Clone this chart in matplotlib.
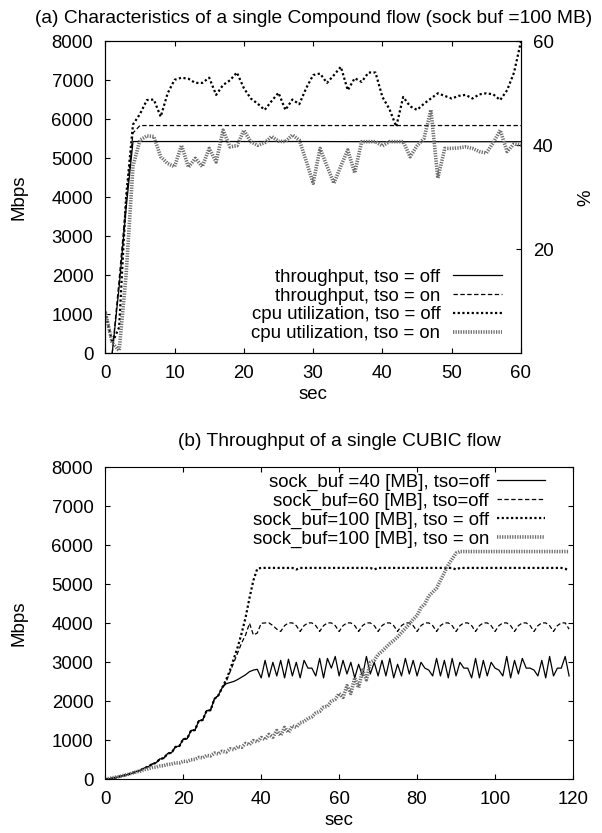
import matplotlib
matplotlib.use("Agg")
import matplotlib.pyplot as plt

plt.rcParams['font.family'] = ['Liberation Sans', 'DejaVu Sans']

# ---------------- (a) data ----------------
a_title = "(a) Characteristics of a single Compound flow (sock buf =100 MB)"
a_thr_x = [1, 2, 3, 4, 5, 10, 20, 30, 40, 50, 60]
a_thr_off = [0, 1700, 3700, 5430, 5430, 5430, 5430, 5430, 5425, 5425, 5425]
a_thr_on = [0, 1900, 3900, 5650, 5840, 5840, 5840, 5840, 5840, 5840, 5840]

a_cpu_x = list(range(0, 61))
a_cpu_off = [8, 2, 5, 30, 44, 46, 48.7, 48.8, 45.5, 50, 52.6, 53, 52.8, 52, 52, 53,
             49.7, 51.6, 52.5, 54, 51, 49, 48, 46.8, 48.5, 50.1, 46.8, 48.8, 47.9, 51,
             53.5, 53.8, 52, 53.5, 55.1, 50.6, 52.9, 52.2, 54, 54, 49.3, 47, 43.6, 49.3,
             47.5, 46.8, 48, 49, 50, 49.5, 49, 49.5, 49.7, 49, 49.8, 50, 49.8, 48.7,
             50.6, 54, 60]
a_cpu_on = [8, 2, 0.5, 15, 36, 41, 41.8, 41.7, 37.8, 36.5, 35.9, 40, 35.8, 37.5, 35.9,
            39.4, 36.8, 42.9, 39.7, 39.9, 42.9, 40.7, 40, 40.5, 41.7, 40.8, 40.7, 42, 41,
            37, 32.7, 39.4, 36, 32.7, 36, 39.1, 34.7, 40.7, 40.7, 40.7, 39.9, 40.7, 40.7,
            40.7, 37.8, 39.9, 41.3, 46.8, 33.7, 39.4, 39.4, 39.5, 39.7, 39.4, 38.8, 38.5,
            40.5, 42.9, 38.8, 40.3, 40]
a_labels = ["throughput, tso = off", "throughput, tso = on",
            "cpu utilization, tso = off", "cpu utilization, tso = on"]

# ---------------- (b) data ----------------
b_title = "(b) Throughput of a single CUBIC flow"
b_x = list(range(0, 120))
growth = [0, 10, 30, 50, 80, 100, 130, 160, 200, 230, 290, 320, 390, 420, 520, 540,
          660, 680, 830, 850, 1030, 1040, 1250, 1260, 1500, 1520, 1760, 1770, 2060,
          2150, 2350]
b_buf40 = growth + [2450, 2480, 2510, 2560, 2620, 2680, 2760, 2800, 2820, 2600,
                    3050, 2620, 3000, 2650, 3050, 2600, 3080, 2650, 3000, 2600,
                    3050, 2850, 2850, 2650, 3100, 2600, 3100, 2850, 3150, 2650,
                    3050, 2700, 3000, 2600, 2950, 2650, 3150, 2700, 3000, 2650,
                    3050, 2650, 3100, 2600, 2950, 2650, 3100, 2700, 3050, 2650,
                    3000, 2850, 2800, 2650, 3100, 2650, 3050, 2600, 3100, 2650,
                    3000, 2850, 2850, 2600, 3100, 2600, 3050, 2650, 3000, 2850,
                    2800, 2650, 3150, 2600, 3050, 2700, 3100, 2850, 2850, 2800,
                    2650, 3050, 2600, 3150, 2650, 2850, 2850, 3150, 2650]
b_buf60 = growth + [2500, 2750, 3000, 3250, 3500, 3700, 4000, 3700, 3750, 4000,
                    4010, 4010, 3940, 3850, 3790, 3940, 4010, 4010, 3940, 3790,
                    3940, 4010, 4010, 3940, 3790, 3940, 4010, 4010, 3940, 3790,
                    3940, 4010, 4010, 3940, 3790, 3940, 4010, 4010, 3940, 3790,
                    3940, 4010, 4010, 3940, 3790, 3940, 4010, 4010, 3940, 3790,
                    3940, 4010, 4010, 3940, 3790, 3940, 4010, 4010, 3940, 3790,
                    3940, 4010, 4010, 3940, 3790, 3940, 4010, 4010, 3940, 3790,
                    3940, 4010, 4010, 3940, 3790, 3940, 4010, 4010, 3940, 3790,
                    3940, 4010, 4010, 3940, 3790, 3940, 4010, 4010, 3850]
b_buf100_off = growth + [2550, 2800, 3100, 3400, 3750, 4150, 4650, 5100, 5400, 5420,
                         5420, 5420, 5420, 5420, 5420, 5420, 5420, 5420, 5380, 5420,
                         5420, 5420, 5420, 5420, 5420, 5420, 5420, 5420, 5420, 5420,
                         5420, 5420, 5420, 5420, 5420, 5420, 5420, 5420, 5380, 5420,
                         5420, 5420, 5420, 5420, 5420, 5420, 5420, 5420, 5420, 5420,
                         5420, 5420, 5420, 5420, 5420, 5420, 5420, 5420, 5420, 5380,
                         5420, 5420, 5420, 5420, 5420, 5420, 5420, 5420, 5420, 5420,
                         5420, 5420, 5420, 5420, 5420, 5420, 5420, 5420, 5420, 5420,
                         5420, 5420, 5420, 5420, 5420, 5420, 5420, 5400, 5350]
b_buf100_on = [0, 20, 40, 60, 80, 110, 130, 160, 190, 210, 250, 270, 300, 310, 340,
               350, 380, 390, 420, 420, 460, 460, 500, 510, 560, 550, 610, 600, 670,
               650, 720, 700, 780, 760, 840, 820, 920, 890, 990, 960, 1070, 1020, 1150,
               1080, 1250, 1120, 1330, 1200, 1370, 1330, 1450, 1480, 1560, 1600, 1700,
               1740, 1850, 1870, 2000, 2050, 2200, 2100, 2400, 2200, 2600, 2350, 2800,
               2550, 3000, 3050, 3200, 3280, 3380, 3480, 3560, 3650, 3760, 3870, 3980,
               4100, 4200, 4400, 4500, 4700, 4800, 4900, 5100, 5300, 5500, 5650, 5800,
               5840, 5840, 5840, 5840, 5840, 5840, 5840, 5840, 5840, 5840, 5840, 5840,
               5840, 5840, 5840, 5840, 5840, 5840, 5840, 5840, 5840, 5840, 5840, 5840,
               5840, 5840, 5840, 5840, 5840]
b_labels = ["sock_buf =40 [MB], tso=off", "sock_buf=60 [MB], tso=off",
            "sock_buf=100 [MB], tso = off", "sock_buf=100 [MB], tso = on"]

# ---------------- styles ----------------
FS = 13.4
FS_T = 13.8
st_solid = dict(color='black', lw=0.9, linestyle='-')
st_dash = dict(color='black', lw=0.9, linestyle=(0, (3.5, 2)))
st_dot = dict(color='black', lw=1.6, linestyle=(0, (1, 1.1)))
st_gray = dict(color='#6e6e6e', lw=2.6, linestyle=(0, (0.35, 0.35)))

fig = plt.figure(figsize=(6.02, 8.33), dpi=100)

def style_axes(ax):
    for s in ax.spines.values():
        s.set_linewidth(0.8)
    ax.tick_params(direction='in', length=3.6, width=0.8, labelsize=FS, pad=8.5)

# ---- top ----
ax1 = fig.add_axes([0.1749, 0.5759, 0.6905, 0.3745])
ax1r = ax1.twinx()
h1, = ax1.plot(a_thr_x, a_thr_off, **st_solid)
h2, = ax1.plot(a_thr_x, a_thr_on, **st_dash)
h3, = ax1r.plot(a_cpu_x, a_cpu_off, **st_dot)
h4, = ax1r.plot(a_cpu_x, a_cpu_on, **st_gray)
ax1.set_xlim(0, 60)
ax1.set_ylim(0, 8000)
ax1r.set_ylim(0, 60)
ax1.set_xticks(range(0, 61, 10))
ax1.set_yticks(range(0, 8001, 1000))
ax1r.set_yticks([20, 40, 60])
style_axes(ax1)
style_axes(ax1r)
ax1.tick_params(top=True, right=False)
ax1r.tick_params(left=False, right=True)
ax1.set_xlabel("sec", fontsize=FS, labelpad=3)
ax1.set_ylabel("Mbps", fontsize=FS, labelpad=17)
ax1r.set_ylabel("%", fontsize=FS, labelpad=17)
ax1.set_title(a_title, fontsize=FS_T, pad=13)
ax1r.legend([h1, h2, h3, h4], a_labels, loc='lower right',
            bbox_to_anchor=(0.9536, 0.035), frameon=False, fontsize=FS,
            markerfirst=False, handlelength=2.6, handletextpad=0.7,
            labelspacing=0.1, borderpad=0, borderaxespad=0)

# ---- bottom ----
ax2 = fig.add_axes([0.1749, 0.0645, 0.7769, 0.3745])
ax2.plot(b_x, b_buf40, label=b_labels[0], **st_solid)
ax2.plot(b_x, b_buf60, label=b_labels[1], **st_dash)
ax2.plot(b_x, b_buf100_off, label=b_labels[2], **st_dot)
ax2.plot(b_x, b_buf100_on, label=b_labels[3], **st_gray)
ax2.set_xlim(0, 120)
ax2.set_ylim(0, 8000)
ax2.set_xticks(range(0, 121, 20))
ax2.set_yticks(range(0, 8001, 1000))
style_axes(ax2)
ax2.tick_params(top=True, right=True)
ax2.set_xlabel("sec", fontsize=FS, labelpad=3)
ax2.set_ylabel("Mbps", fontsize=FS, labelpad=17)
ax2.set_title(b_title, fontsize=FS_T, pad=15)
ax2.legend(loc='upper right', bbox_to_anchor=(0.94, 0.98), frameon=False,
           fontsize=FS, markerfirst=False, handlelength=2.6, handletextpad=0.4,
           labelspacing=0.1, borderpad=0, borderaxespad=0)

fig.savefig("out.png", dpi=100)
